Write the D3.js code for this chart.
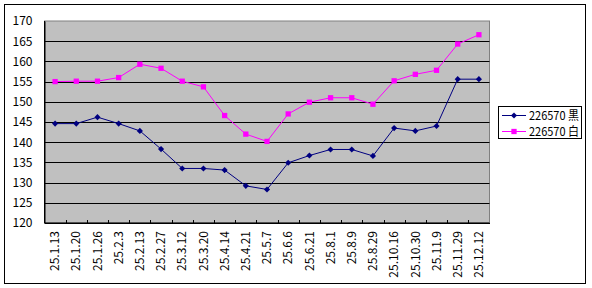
<!DOCTYPE html>
<html>
<head>
<meta charset="utf-8">
<script src="https://cdn.jsdelivr.net/npm/d3@7"></script>
<style>
  html, body { margin: 0; padding: 0; background: #fff; }
  svg { display: block; }
  text { font-family: "Liberation Sans Narrow", "Arial Narrow", "Noto Sans CJK JP", "DejaVu Sans Condensed", sans-serif; fill: #000; }
</style>
</head>
<body>
<svg id="chart" width="592" height="288"></svg>
<script>
const categories = ["25.1.13","25.1.20","25.1.26","25.2.3","25.2.13","25.2.27","25.3.12","25.3.20","25.4.14","25.4.21","25.5.7","25.6.6","25.6.21","25.8.1","25.8.9","25.8.29","25.10.16","25.10.30","25.11.9","25.11.29","25.12.12"];
const blackValues = [144.6,144.6,146.2,144.6,142.8,138.3,133.5,133.5,133.1,129.2,128.3,134.9,136.7,138.2,138.2,136.6,143.5,142.8,144.0,155.6,155.6];
const whiteValues = [155.0,155.1,155.1,156.0,159.3,158.3,155.1,153.7,146.6,142.0,140.2,147.0,149.9,151.0,151.0,149.4,155.2,156.8,157.8,164.3,166.6];
const yTicks = [120,125,130,135,140,145,150,155,160,165,170];
const seriesNames = ["226570 黒","226570 白"];

const FONT = "'Liberation Sans Narrow','Arial Narrow','Noto Sans CJK JP','DejaVu Sans Condensed',sans-serif";
const svg = d3.select("#chart");
const plot = {left: 44.5, top: 21, right: 489.5, bottom: 223};

// outer frame
svg.append("rect").attr("x", 4.5).attr("y", 4.5).attr("width", 581).attr("height", 279)
  .attr("fill", "#fff").attr("stroke", "#000").attr("stroke-width", 1);

const x = d3.scaleBand().domain(categories).range([plot.left, plot.right]).padding(0);
const y = d3.scaleLinear().domain([120, 170]).range([plot.bottom, plot.top]);

// plot background
svg.append("rect").attr("x", plot.left).attr("y", plot.top)
  .attr("width", plot.right - plot.left).attr("height", plot.bottom - plot.top)
  .attr("fill", "#C0C0C0").attr("stroke", "#808080").attr("stroke-width", 1);

// gridlines
svg.append("g").selectAll("line").data(yTicks.filter(d => d > 120 && d < 170)).join("line")
  .attr("x1", plot.left).attr("x2", plot.right)
  .attr("y1", d => Math.round(y(d)) + 0.5).attr("y2", d => Math.round(y(d)) + 0.5)
  .attr("stroke", "#000").attr("stroke-width", 1);

// y axis
const yAxis = d3.axisLeft(y).tickValues(yTicks).tickSize(0).tickPadding(12);
const gy = svg.append("g").attr("transform", `translate(${plot.left},0)`).call(yAxis);
gy.select(".domain").attr("stroke", "#000");
gy.selectAll("text").attr("font-size", 12).style("font-family", FONT);

// x axis
const xAxis = d3.axisBottom(x).tickSize(0).tickPadding(0);
const gx = svg.append("g").attr("transform", `translate(0,${plot.bottom})`).call(xAxis);
gx.select(".domain").attr("stroke", "#000");
gx.selectAll(".tick line").remove();
gx.selectAll(".tick text")
  .attr("transform", "rotate(-90)")
  .attr("x", -8).attr("y", 0).attr("dy", "0.35em")
  .attr("text-anchor", "end")
  .attr("font-size", 12).style("font-family", FONT);

// inside tick marks at band boundaries
const bounds = categories.slice(1).map(c => x(c));
svg.append("g").selectAll("line").data(bounds).join("line")
  .attr("x1", d => Math.round(d) + 0.5).attr("x2", d => Math.round(d) + 0.5)
  .attr("y1", plot.bottom - 3).attr("y2", plot.bottom)
  .attr("stroke", "#000");
svg.append("line").attr("x1", plot.left).attr("x2", plot.right)
  .attr("y1", plot.bottom).attr("y2", plot.bottom).attr("stroke", "#000");
svg.append("line").attr("x1", plot.left).attr("x2", plot.left)
  .attr("y1", plot.top).attr("y2", plot.bottom).attr("stroke", "#000");

const cx = d => x(d) + x.bandwidth() / 2;
const line = d3.line().x((d, i) => cx(categories[i])).y(d => y(d));

const diamond = d3.symbol().type(d3.symbolDiamond2).size(24);
const square = d3.symbol().type(d3.symbolSquare).size(28);

function drawSeries(vals, color, sym) {
  svg.append("path").datum(vals).attr("d", line)
    .attr("fill", "none").attr("stroke", color).attr("stroke-width", 1);
  svg.append("g").selectAll("path").data(vals).join("path")
    .attr("transform", (d, i) => `translate(${cx(categories[i])},${y(d)})`)
    .attr("d", sym).attr("fill", color);
}
drawSeries(blackValues, "#000080", diamond);
drawSeries(whiteValues, "#FF00FF", square);

// legend
const lg = svg.append("g");
lg.append("rect").attr("x", 498.5).attr("y", 106.5).attr("width", 83).attr("height", 32)
  .attr("fill", "#fff").attr("stroke", "#000");
const legendItems = [
  {name: seriesNames[0], color: "#000080", sym: diamond, y: 115},
  {name: seriesNames[1], color: "#FF00FF", sym: square, y: 131}
];
legendItems.forEach(it => {
  lg.append("line").attr("x1", 502).attr("x2", 526).attr("y1", it.y + 0.5).attr("y2", it.y + 0.5)
    .attr("stroke", it.color);
  lg.append("path").attr("transform", `translate(514,${it.y + 0.5})`).attr("d", it.sym).attr("fill", it.color);
  lg.append("text").attr("x", 529).attr("y", it.y).attr("dy", "0.38em")
    .attr("font-size", 12).style("font-family", FONT)
    .attr("textLength", 50).attr("lengthAdjust", "spacingAndGlyphs")
    .text(it.name);
});
</script>
</body>
</html>
